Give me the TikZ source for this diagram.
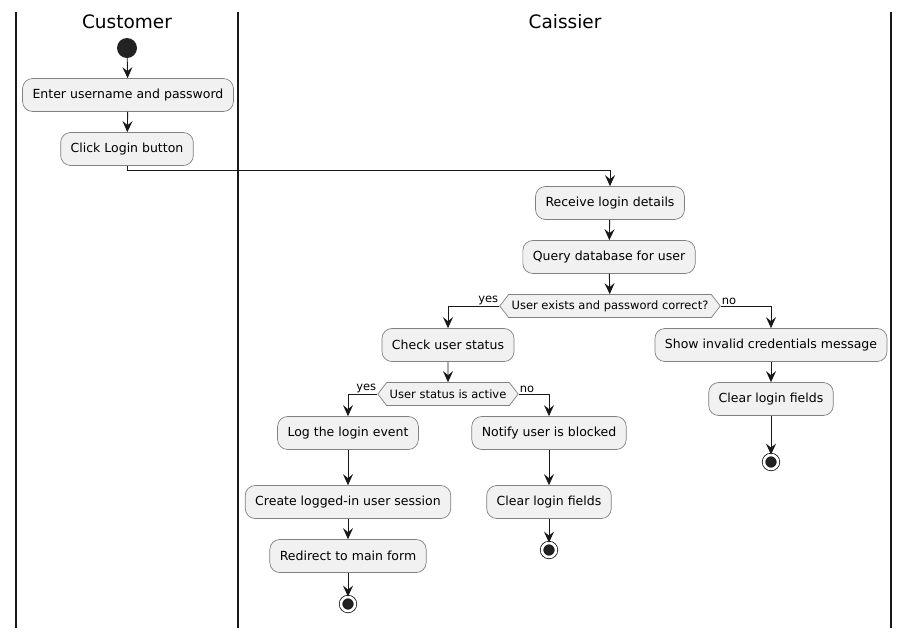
\documentclass[tikz,border=0pt]{standalone}
\usepackage{fontspec}
\setmainfont{DejaVu Sans}
\usetikzlibrary{arrows.meta,shapes.symbols}
\definecolor{actfill}{HTML}{F1F1F1}
\definecolor{actline}{HTML}{181818}
\definecolor{dotfill}{HTML}{222222}
\tikzset{
	act/.style={draw=actline!55, line width=0.7pt, fill=actfill, rounded corners=10pt,
		minimum height=33pt, inner xsep=10pt, font=\fontsize{12.5}{14}\selectfont},
	test/.style={draw=actline!55, line width=0.7pt, fill=actfill, shape=signal,
		signal to=west and east, signal pointer angle=105, minimum height=23pt,
		inner xsep=3pt, inner ysep=0pt, font=\fontsize{11.5}{13}\selectfont},
	flow/.style={-{Stealth[length=11pt,width=10pt,inset=4pt]}, line width=0.9pt, draw=actline},
	startdot/.style={circle, fill=dotfill, minimum size=20pt, inner sep=0pt},
	enddot/.style={circle, draw=actline, fill=dotfill, line width=0.8pt, double=white,
		double distance=2.6pt, minimum size=14pt, inner sep=0pt},
	guard/.style={inner sep=1pt, font=\fontsize{11.5}{13}\selectfont},
	lane/.style={line width=1.6pt, draw=actline},
	lanetitle/.style={font=\fontsize{18.5}{20}\selectfont}
}
\begin{document}
\begin{tikzpicture}[x=1pt,y=-1pt]
	\useasboundingbox (0,0) rectangle (910,638);
	\draw[lane] (16,12) -- (16,628);
	\draw[lane] (238,12) -- (238,628);
	\draw[lane] (891,12) -- (891,628);
	\node[lanetitle] (customer) at (127,22) {Customer};
	\node[lanetitle] (caissier) at (565,22) {Caissier};
	
	\node[startdot] (start) at (127,48) {};
	\node[act] (enter) at (128,95) {Enter username and password};
	\node[act] (click) at (127,149) {Click Login button};
	\node[act] (receive) at (610,203) {Receive login details};
	\node[act] (query) at (609,257) {Query database for user};
	\node[test] (exists) at (610,306) {User exists and password correct?};
	\node[act] (check) at (448,345) {Check user status};
	\node[act] (invalid) at (771,345) {Show invalid credentials message};
	\node[test] (active) at (448,394) {User status is active};
	\node[act] (clearA) at (771,399) {Clear login fields};
	\node[enddot] (endA) at (771,462) {};
	\node[act] (log) at (348,433) {Log the login event};
	\node[act] (notify) at (549,433) {Notify user is blocked};
	\node[act] (session) at (348,502) {Create logged-in user session};
	\node[act] (clearB) at (549,502) {Clear login fields};
	\node[enddot] (endB) at (549,550) {};
	\node[act] (redirect) at (348,556) {Redirect to main form};
	\node[enddot] (endC) at (348,604) {};
	
	\draw[flow] (start) -- (enter);
	\draw[flow] (enter) -- (click);
	\draw[flow] (click.south) -- ++(0,5) -| (receive.north);
	\draw[flow] (receive) -- (query);
	\draw[flow] (query) -- (exists);
	\draw[flow] (exists.west) -| (check.north);
	\draw[flow] (exists.east) -| (invalid.north);
	\node[guard, above left] at (exists.west) {yes};
	\node[guard, above right] at (exists.east) {no};
	\draw[flow] (invalid) -- (clearA);
	\draw[flow] (clearA) -- (endA);
	\draw[flow] (check) -- (active);
	\draw[flow] (active.west) -| (log.north);
	\draw[flow] (active.east) -| (notify.north);
	\node[guard, above left] at (active.west) {yes};
	\node[guard, above right] at (active.east) {no};
	\draw[flow] (log) -- (session);
	\draw[flow] (session) -- (redirect);
	\draw[flow] (redirect) -- (endC);
	\draw[flow] (notify) -- (clearB);
	\draw[flow] (clearB) -- (endB);
\end{tikzpicture}
\end{document}
